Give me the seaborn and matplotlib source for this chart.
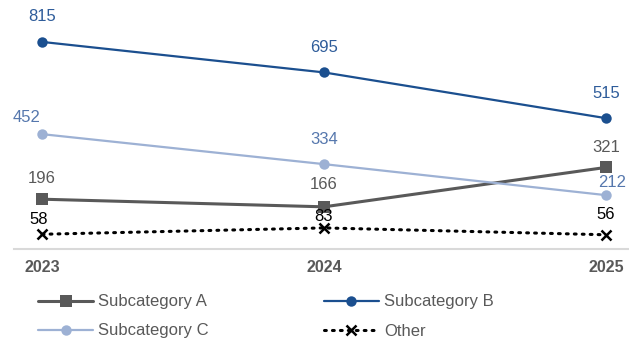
import numpy as np
import pandas as pd
import matplotlib
matplotlib.use("Agg")
import matplotlib.pyplot as plt
import seaborn as sns

# -----------------------------
# DATA
# -----------------------------
years = ["2023", "2024", "2025"]
sub_a = [196, 166, 321]
sub_b = [815, 695, 515]
sub_c = [452, 334, 212]
other = [58, 83, 56]

series_names = ["Subcategory A", "Subcategory B", "Subcategory C", "Other"]
series_values = [sub_a, sub_b, sub_c, other]

# -----------------------------
# STYLE
# -----------------------------
sns.set_style("white")
plt.rcParams["font.family"] = ["Liberation Sans", "DejaVu Sans"]

line_colors = ["#595959", "#1B4F8F", "#9DB1D4", "#000000"]
label_colors = ["#595959", "#2E5C9A", "#5577AD", "#000000"]
markers = ["s", "o", "o", "x"]
marker_sizes = [8, 7.5, 7.5, 6.5]
line_widths = [2.2, 1.6, 1.6, 2.2]
# label offsets in pixels (dx, dy) per series / point
label_offsets = [
    [(0, 21), (0, 22), (0, 20)],
    [(0, 25), (0, 25), (0, 25)],
    [(-16, 17), (0, 25), (6, 13)],
    [(-4, 15), (0, 11), (0, 20)],
]

fig = plt.figure(figsize=(6.29, 3.43), dpi=100)
ax = fig.add_axes([14 / 629, 1 - 249 / 343, 620 / 629, 249 / 343])

x = np.arange(len(years))
for i, name in enumerate(series_names):
    df = pd.DataFrame({"x": x, "y": series_values[i]})
    ls = (0, (0.6, 2.0)) if name == "Other" else "-"
    sns.lineplot(
        data=df, x="x", y="y", ax=ax, color=line_colors[i],
        linewidth=line_widths[i], linestyle=ls,
        marker=markers[i], markersize=marker_sizes[i],
        markeredgecolor=line_colors[i], markeredgewidth=1.8 if name == "Other" else 0,
        label=name, dash_capstyle="round",
    )
    for j, v in enumerate(series_values[i]):
        dx, dy = label_offsets[i][j]
        ax.annotate(str(v), (x[j], v), xytext=(dx, dy), textcoords="offset pixels",
                    ha="center", va="center", fontsize=12, color=label_colors[i])

ax.set_xlim(-0.1, 2.1)
ax.set_ylim(0, 980)
ax.set_xticks(x)
ax.set_xticklabels(years, fontsize=11.5, fontweight="bold", color="#595959")
ax.set_yticks([])
ax.set_xlabel("")
ax.set_ylabel("")
ax.tick_params(axis="x", length=0, pad=8)
for s in ["top", "right", "left"]:
    ax.spines[s].set_visible(False)
ax.spines["bottom"].set_color("#D9D9D9")
ax.spines["bottom"].set_linewidth(1.5)

ax.legend_.remove()
handles, labels = ax.get_legend_handles_labels()
order = [0, 2, 1, 3]  # column-major fill -> A, B on first row
leg = fig.legend([handles[k] for k in order], [labels[k] for k in order],
                 ncol=2, loc="upper left",
                 bbox_to_anchor=(30 / 629, 1 - 286 / 343), frameon=False,
                 fontsize=12, handlelength=3.3, columnspacing=6.9,
                 labelspacing=0.85, handletextpad=0.3, borderpad=0)
for t in leg.get_texts():
    t.set_color("#595959")

fig.savefig("out.png", dpi=100)
